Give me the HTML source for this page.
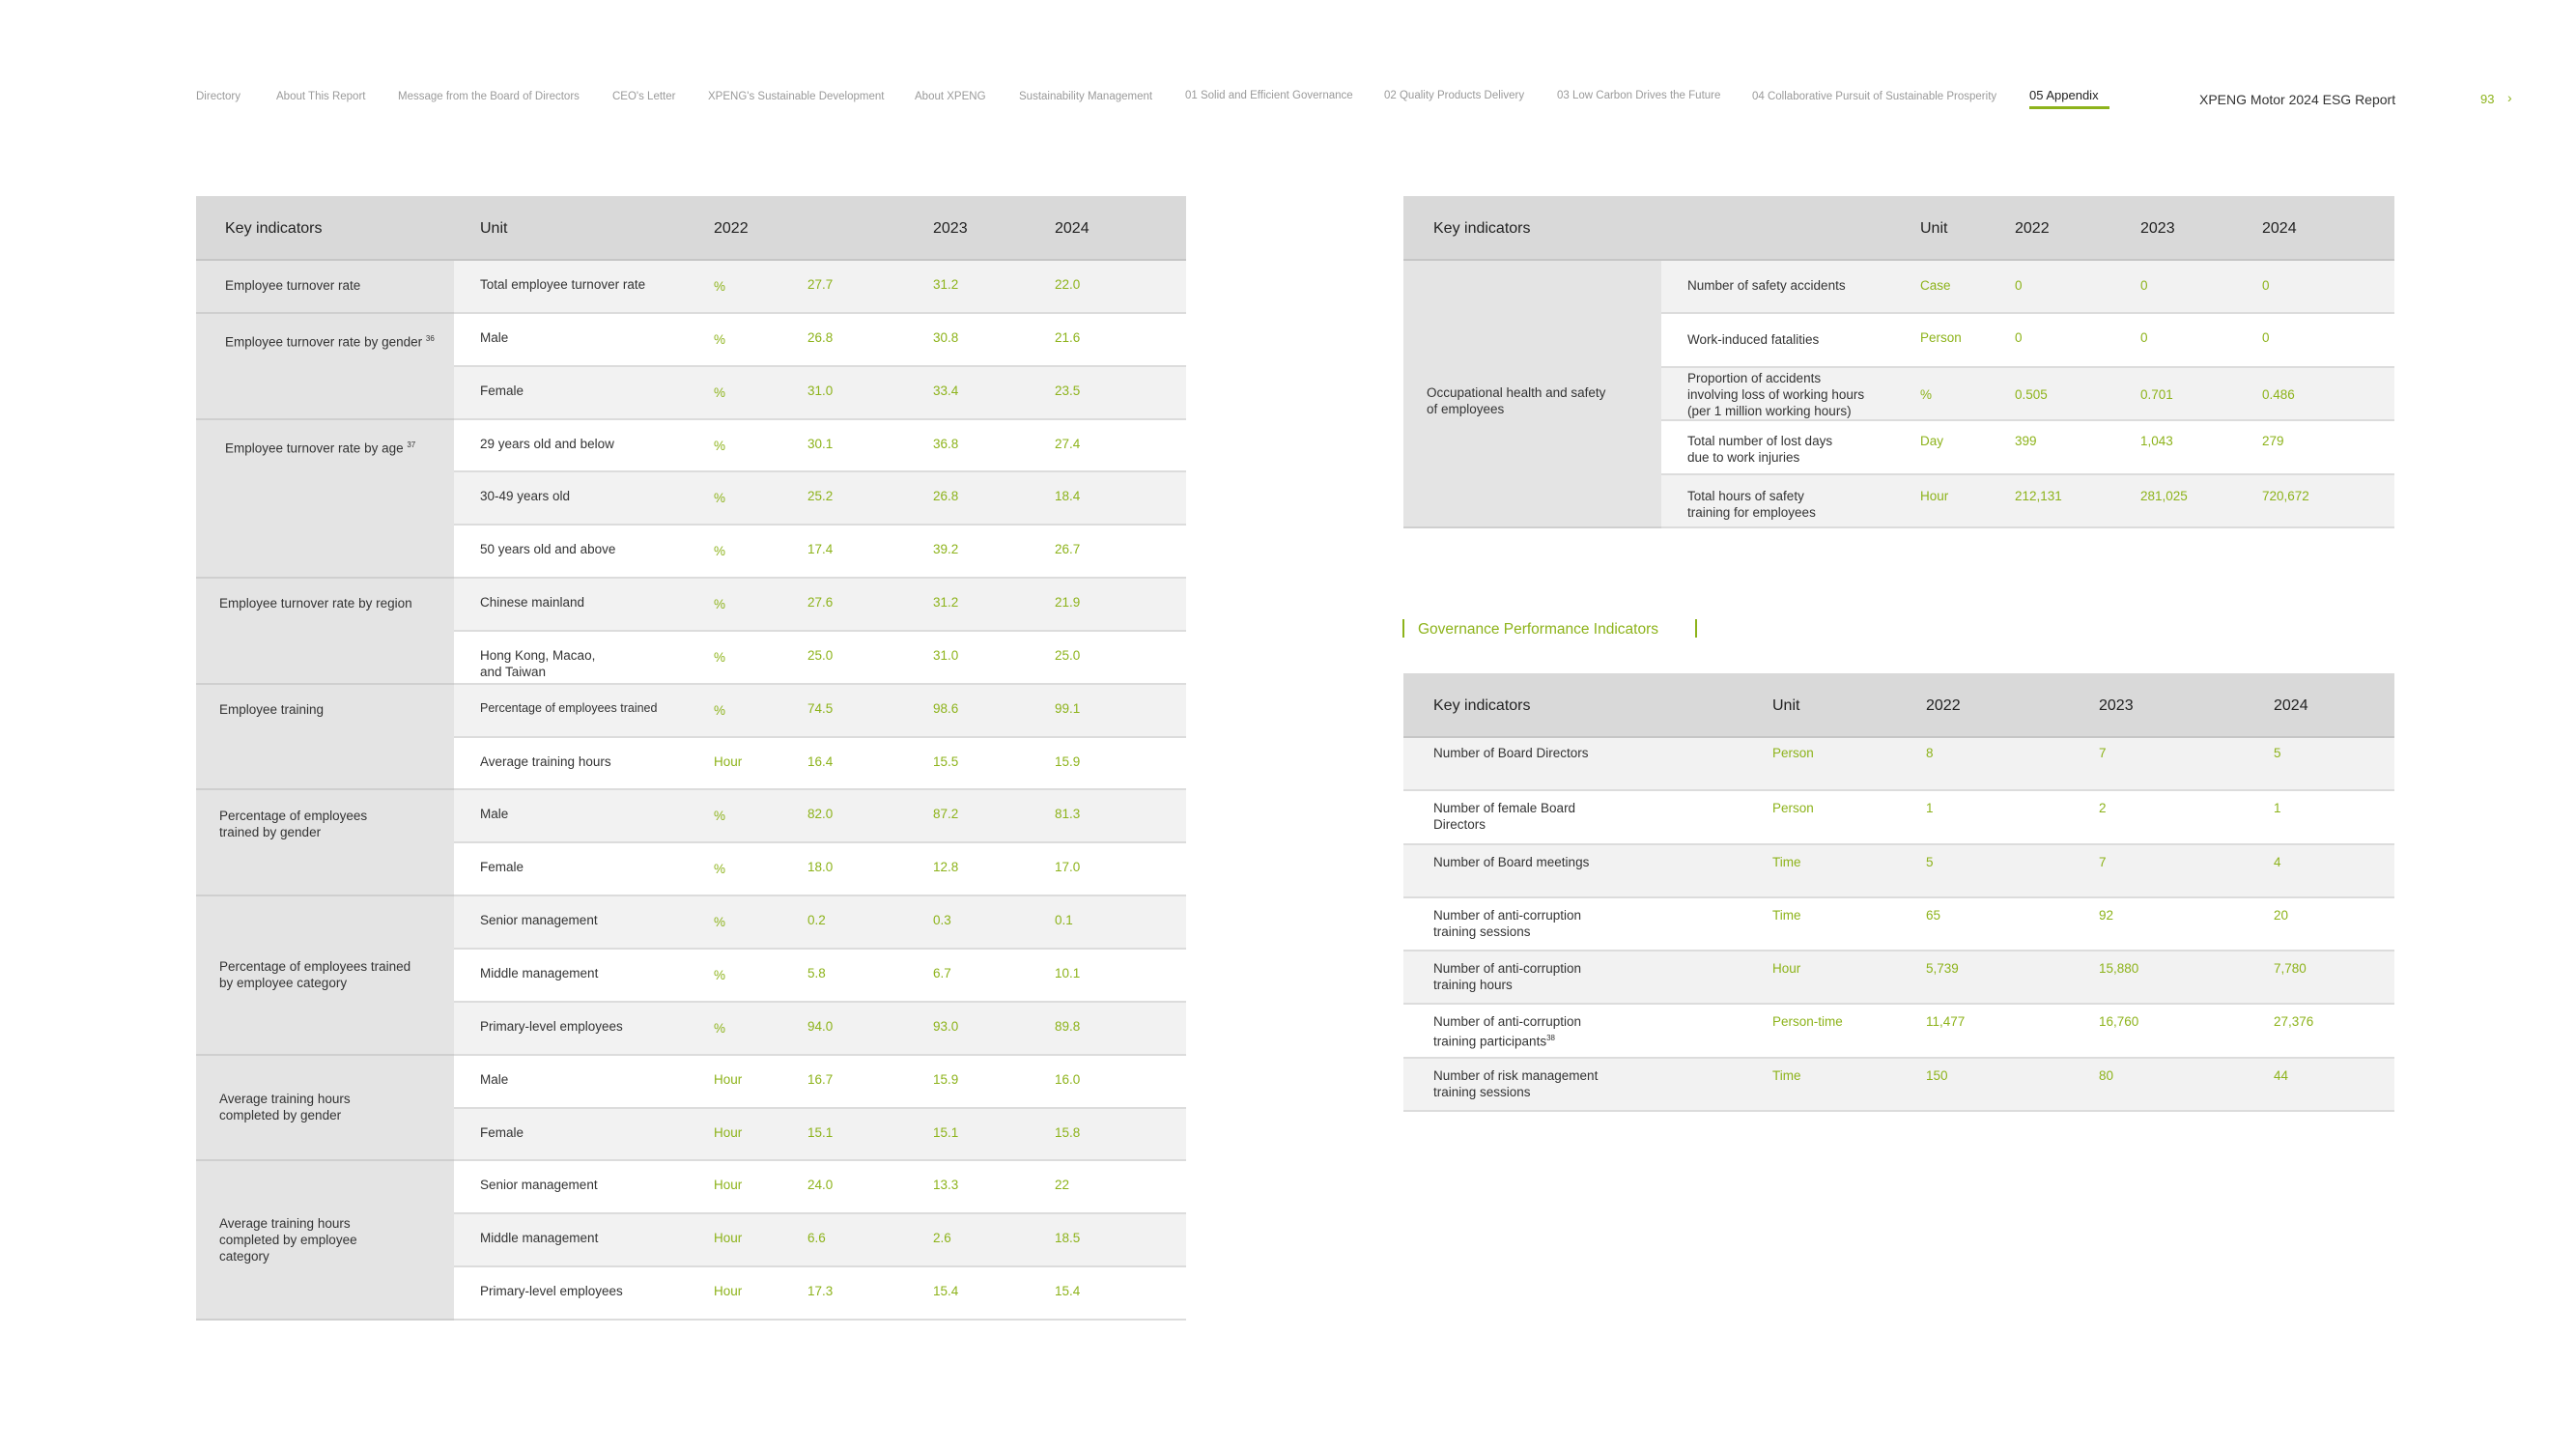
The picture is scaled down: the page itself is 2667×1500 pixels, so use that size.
<!DOCTYPE html>
<html><head><meta charset="utf-8"><style>
*{margin:0;padding:0;box-sizing:border-box}
body{width:2667px;height:1500px;background:#fff;position:relative;overflow:hidden;font-family:"Liberation Sans",sans-serif;color:#333}
.a{position:absolute;white-space:nowrap}
.nav{top:94px;font-size:11.5px;color:#9a9a9a}
.g{color:#8db31b}
.hd{position:absolute;background:#d9d9d9;border-bottom:2px solid #c6c6c6}
.hd span{position:absolute;top:0;line-height:67px;font-size:16px;color:#222}
.row{position:relative;border-bottom:2px solid #dcdcdc}
.row span{position:absolute;font-size:13.5px;line-height:17px}
.l{background:#f2f2f2}.w{background:#fff}
.lc{position:absolute;background:#e4e4e4}
.grp{position:absolute;border-bottom:2px solid #cfcfcf;left:0;width:100%}
.grp span{position:absolute;font-size:13.5px;line-height:17px;left:30px}
.pc{font-size:17px}
</style></head><body>
<div class="a nav" style="left:203px">Directory</div>
<div class="a nav" style="left:286px">About This Report</div>
<div class="a nav" style="left:412px">Message from the Board of Directors</div>
<div class="a nav" style="left:634px">CEO's Letter</div>
<div class="a nav" style="left:733px">XPENG's Sustainable Development</div>
<div class="a nav" style="left:947px">About XPENG</div>
<div class="a nav" style="left:1055px">Sustainability Management</div>
<div class="a nav" style="left:1227px;top:93px">01 Solid and Efficient Governance</div>
<div class="a nav" style="left:1433px;top:93px">02 Quality Products Delivery</div>
<div class="a nav" style="left:1612px;top:93px">03 Low Carbon Drives the Future</div>
<div class="a nav" style="left:1814px">04 Collaborative Pursuit of Sustainable Prosperity</div>
<div class="a" style="left:2101px;top:91px;font-size:13px;color:#222">05 Appendix</div>
<div class="a" style="left:2101px;top:110px;width:83px;height:3px;background:#8db31b"></div>
<div class="a" style="left:2277px;top:95px;font-size:14px;color:#333">XPENG Motor 2024 ESG Report</div>
<div class="a g" style="left:2568px;top:95px;font-size:13px">93</div>
<div class="a g" style="left:2596px;top:93px;font-size:14px">›</div>

<!-- LEFT TABLE -->
<div class="hd" style="left:203px;top:203px;width:1025px;height:67px">
<span style="left:30px">Key indicators</span><span style="left:294px">Unit</span><span style="left:536px">2022</span><span style="left:763px">2023</span><span style="left:889px">2024</span></div>
<div class="lc" style="left:203px;top:270px;width:267px;height:1097px">
<div class="grp" style="top:0;height:54.85px"><span style="top:17px">Employee turnover rate</span></div>
<div class="grp" style="top:54.85px;height:109.7px"><span style="top:17px">Employee turnover rate by gender <sup style="font-size:8px">36</sup></span></div>
<div class="grp" style="top:164.55px;height:164.55px"><span style="top:17px">Employee turnover rate by age <sup style="font-size:8px">37</sup></span></div>
<div class="grp" style="top:329.1px;height:109.7px"><span style="left:24px;top:17px">Employee turnover rate by region</span></div>
<div class="grp" style="top:438.8px;height:109.7px"><span style="left:24px;top:17px">Employee training</span></div>
<div class="grp" style="top:548.5px;height:109.7px"><span style="left:24px;top:17px">Percentage of employees<br>trained by gender</span></div>
<div class="grp" style="top:658.2px;height:164.55px"><span style="left:24px;top:64px">Percentage of employees trained<br>by employee category</span></div>
<div class="grp" style="top:822.75px;height:109.7px"><span style="left:24px;top:36px">Average training hours<br>completed by gender</span></div>
<div class="grp" style="top:932.45px;height:164.55px"><span style="left:24px;top:56px">Average training hours<br>completed by employee<br>category</span></div>
</div>
<div style="position:absolute;left:470px;top:270px;width:758px">
<div class="row l" style="height:54.85px"><span style="left:27px;top:16px">Total employee turnover rate</span><span class="g pc" style="left:269px;top:18px">%</span><span class="g" style="left:366px;top:16px">27.7</span><span class="g" style="left:496px;top:16px">31.2</span><span class="g" style="left:622px;top:16px">22.0</span></div>
<div class="row w" style="height:54.85px"><span style="left:27px;top:16px">Male</span><span class="g pc" style="left:269px;top:18px">%</span><span class="g" style="left:366px;top:16px">26.8</span><span class="g" style="left:496px;top:16px">30.8</span><span class="g" style="left:622px;top:16px">21.6</span></div>
<div class="row l" style="height:54.85px"><span style="left:27px;top:16px">Female</span><span class="g pc" style="left:269px;top:18px">%</span><span class="g" style="left:366px;top:16px">31.0</span><span class="g" style="left:496px;top:16px">33.4</span><span class="g" style="left:622px;top:16px">23.5</span></div>
<div class="row w" style="height:54.85px"><span style="left:27px;top:16px">29 years old and below</span><span class="g pc" style="left:269px;top:18px">%</span><span class="g" style="left:366px;top:16px">30.1</span><span class="g" style="left:496px;top:16px">36.8</span><span class="g" style="left:622px;top:16px">27.4</span></div>
<div class="row l" style="height:54.85px"><span style="left:27px;top:16px">30-49 years old</span><span class="g pc" style="left:269px;top:18px">%</span><span class="g" style="left:366px;top:16px">25.2</span><span class="g" style="left:496px;top:16px">26.8</span><span class="g" style="left:622px;top:16px">18.4</span></div>
<div class="row w" style="height:54.85px"><span style="left:27px;top:16px">50 years old and above</span><span class="g pc" style="left:269px;top:18px">%</span><span class="g" style="left:366px;top:16px">17.4</span><span class="g" style="left:496px;top:16px">39.2</span><span class="g" style="left:622px;top:16px">26.7</span></div>
<div class="row l" style="height:54.85px"><span style="left:27px;top:16px">Chinese mainland</span><span class="g pc" style="left:269px;top:18px">%</span><span class="g" style="left:366px;top:16px">27.6</span><span class="g" style="left:496px;top:16px">31.2</span><span class="g" style="left:622px;top:16px">21.9</span></div>
<div class="row w" style="height:54.85px"><span style="left:27px;top:16px">Hong Kong, Macao,<br>and Taiwan</span><span class="g pc" style="left:269px;top:18px">%</span><span class="g" style="left:366px;top:16px">25.0</span><span class="g" style="left:496px;top:16px">31.0</span><span class="g" style="left:622px;top:16px">25.0</span></div>
<div class="row l" style="height:54.85px"><span style="left:27px;top:16px;font-size:12.5px">Percentage of employees trained</span><span class="g pc" style="left:269px;top:18px">%</span><span class="g" style="left:366px;top:16px">74.5</span><span class="g" style="left:496px;top:16px">98.6</span><span class="g" style="left:622px;top:16px">99.1</span></div>
<div class="row w" style="height:54.85px"><span style="left:27px;top:16px">Average training hours</span><span class="g" style="left:269px;top:16px">Hour</span><span class="g" style="left:366px;top:16px">16.4</span><span class="g" style="left:496px;top:16px">15.5</span><span class="g" style="left:622px;top:16px">15.9</span></div>
<div class="row l" style="height:54.85px"><span style="left:27px;top:16px">Male</span><span class="g pc" style="left:269px;top:18px">%</span><span class="g" style="left:366px;top:16px">82.0</span><span class="g" style="left:496px;top:16px">87.2</span><span class="g" style="left:622px;top:16px">81.3</span></div>
<div class="row w" style="height:54.85px"><span style="left:27px;top:16px">Female</span><span class="g pc" style="left:269px;top:18px">%</span><span class="g" style="left:366px;top:16px">18.0</span><span class="g" style="left:496px;top:16px">12.8</span><span class="g" style="left:622px;top:16px">17.0</span></div>
<div class="row l" style="height:54.85px"><span style="left:27px;top:16px">Senior management</span><span class="g pc" style="left:269px;top:18px">%</span><span class="g" style="left:366px;top:16px">0.2</span><span class="g" style="left:496px;top:16px">0.3</span><span class="g" style="left:622px;top:16px">0.1</span></div>
<div class="row w" style="height:54.85px"><span style="left:27px;top:16px">Middle management</span><span class="g pc" style="left:269px;top:18px">%</span><span class="g" style="left:366px;top:16px">5.8</span><span class="g" style="left:496px;top:16px">6.7</span><span class="g" style="left:622px;top:16px">10.1</span></div>
<div class="row l" style="height:54.85px"><span style="left:27px;top:16px">Primary-level employees</span><span class="g pc" style="left:269px;top:18px">%</span><span class="g" style="left:366px;top:16px">94.0</span><span class="g" style="left:496px;top:16px">93.0</span><span class="g" style="left:622px;top:16px">89.8</span></div>
<div class="row w" style="height:54.85px"><span style="left:27px;top:16px">Male</span><span class="g" style="left:269px;top:16px">Hour</span><span class="g" style="left:366px;top:16px">16.7</span><span class="g" style="left:496px;top:16px">15.9</span><span class="g" style="left:622px;top:16px">16.0</span></div>
<div class="row l" style="height:54.85px"><span style="left:27px;top:16px">Female</span><span class="g" style="left:269px;top:16px">Hour</span><span class="g" style="left:366px;top:16px">15.1</span><span class="g" style="left:496px;top:16px">15.1</span><span class="g" style="left:622px;top:16px">15.8</span></div>
<div class="row w" style="height:54.85px"><span style="left:27px;top:16px">Senior management</span><span class="g" style="left:269px;top:16px">Hour</span><span class="g" style="left:366px;top:16px">24.0</span><span class="g" style="left:496px;top:16px">13.3</span><span class="g" style="left:622px;top:16px">22</span></div>
<div class="row l" style="height:54.85px"><span style="left:27px;top:16px">Middle management</span><span class="g" style="left:269px;top:16px">Hour</span><span class="g" style="left:366px;top:16px">6.6</span><span class="g" style="left:496px;top:16px">2.6</span><span class="g" style="left:622px;top:16px">18.5</span></div>
<div class="row w" style="height:54.85px"><span style="left:27px;top:16px">Primary-level employees</span><span class="g" style="left:269px;top:16px">Hour</span><span class="g" style="left:366px;top:16px">17.3</span><span class="g" style="left:496px;top:16px">15.4</span><span class="g" style="left:622px;top:16px">15.4</span></div>
</div>

<!-- RIGHT TABLE 1 -->
<div class="hd" style="left:1453px;top:203px;width:1026px;height:67px">
<span style="left:31px">Key indicators</span><span style="left:535px">Unit</span><span style="left:633px">2022</span><span style="left:763px">2023</span><span style="left:889px">2024</span></div>
<div class="lc" style="left:1453px;top:270px;width:267px;height:277px;border-bottom:2px solid #cfcfcf">
<span class="a" style="left:24px;top:128px;font-size:13.5px;line-height:17px">Occupational health and safety<br>of employees</span></div>
<div style="position:absolute;left:1720px;top:270px;width:759px">
<div class="row l" style="height:55.4px"><span style="left:27px;top:17px">Number of safety accidents</span><span class="g" style="left:268px;top:17px">Case</span><span class="g" style="left:366px;top:17px">0</span><span class="g" style="left:496px;top:17px">0</span><span class="g" style="left:622px;top:17px">0</span></div>
<div class="row w" style="height:55.4px"><span style="left:27px;top:18px">Work-induced fatalities</span><span class="g" style="left:268px;top:16px">Person</span><span class="g" style="left:366px;top:16px">0</span><span class="g" style="left:496px;top:16px">0</span><span class="g" style="left:622px;top:16px">0</span></div>
<div class="row l" style="height:55.4px"><span style="left:27px;top:2px">Proportion of accidents<br>involving loss of working hours<br>(per 1 million working hours)</span><span class="g" style="left:268px;top:19px">%</span><span class="g" style="left:366px;top:19px">0.505</span><span class="g" style="left:496px;top:19px">0.701</span><span class="g" style="left:622px;top:19px">0.486</span></div>
<div class="row w" style="height:55.4px"><span style="left:27px;top:12px">Total number of lost days<br>due to work injuries</span><span class="g" style="left:268px;top:12px">Day</span><span class="g" style="left:366px;top:12px">399</span><span class="g" style="left:496px;top:12px">1,043</span><span class="g" style="left:622px;top:12px">279</span></div>
<div class="row l" style="height:55.4px"><span style="left:27px;top:13px">Total hours of safety<br>training for employees</span><span class="g" style="left:268px;top:13px">Hour</span><span class="g" style="left:366px;top:13px">212,131</span><span class="g" style="left:496px;top:13px">281,025</span><span class="g" style="left:622px;top:13px">720,672</span></div>
</div>

<!-- Governance title -->
<div class="a" style="left:1452px;top:641px;width:2px;height:19px;background:#8db31b"></div>
<div class="a g" style="left:1468px;top:643px;font-size:15.5px">Governance Performance Indicators</div>
<div class="a" style="left:1755px;top:641px;width:2px;height:19px;background:#8db31b"></div>

<!-- RIGHT TABLE 2 -->
<div class="hd" style="left:1453px;top:697px;width:1026px;height:67px">
<span style="left:31px">Key indicators</span><span style="left:382px">Unit</span><span style="left:541px">2022</span><span style="left:720px">2023</span><span style="left:901px">2024</span></div>
<div style="position:absolute;left:1453px;top:764px;width:1026px">
<div class="row l" style="height:55.3px"><span style="left:31px;top:7px">Number of Board Directors</span><span class="g" style="left:382px;top:7px">Person</span><span class="g" style="left:541px;top:7px">8</span><span class="g" style="left:720px;top:7px">7</span><span class="g" style="left:901px;top:7px">5</span></div>
<div class="row w" style="height:55.3px"><span style="left:31px;top:9px">Number of female Board<br>Directors</span><span class="g" style="left:382px;top:9px">Person</span><span class="g" style="left:541px;top:9px">1</span><span class="g" style="left:720px;top:9px">2</span><span class="g" style="left:901px;top:9px">1</span></div>
<div class="row l" style="height:55.3px"><span style="left:31px;top:9px">Number of Board meetings</span><span class="g" style="left:382px;top:9px">Time</span><span class="g" style="left:541px;top:9px">5</span><span class="g" style="left:720px;top:9px">7</span><span class="g" style="left:901px;top:9px">4</span></div>
<div class="row w" style="height:55.3px"><span style="left:31px;top:9px">Number of anti-corruption<br>training sessions</span><span class="g" style="left:382px;top:9px">Time</span><span class="g" style="left:541px;top:9px">65</span><span class="g" style="left:720px;top:9px">92</span><span class="g" style="left:901px;top:9px">20</span></div>
<div class="row l" style="height:55.3px"><span style="left:31px;top:9px">Number of anti-corruption<br>training hours</span><span class="g" style="left:382px;top:9px">Hour</span><span class="g" style="left:541px;top:9px">5,739</span><span class="g" style="left:720px;top:9px">15,880</span><span class="g" style="left:901px;top:9px">7,780</span></div>
<div class="row w" style="height:55.3px"><span style="left:31px;top:9px">Number of anti-corruption<br>training participants<sup style="font-size:8px">38</sup></span><span class="g" style="left:382px;top:9px">Person-time</span><span class="g" style="left:541px;top:9px">11,477</span><span class="g" style="left:720px;top:9px">16,760</span><span class="g" style="left:901px;top:9px">27,376</span></div>
<div class="row l" style="height:55.3px"><span style="left:31px;top:9px">Number of risk management<br>training sessions</span><span class="g" style="left:382px;top:9px">Time</span><span class="g" style="left:541px;top:9px">150</span><span class="g" style="left:720px;top:9px">80</span><span class="g" style="left:901px;top:9px">44</span></div>
</div>
</body></html>
